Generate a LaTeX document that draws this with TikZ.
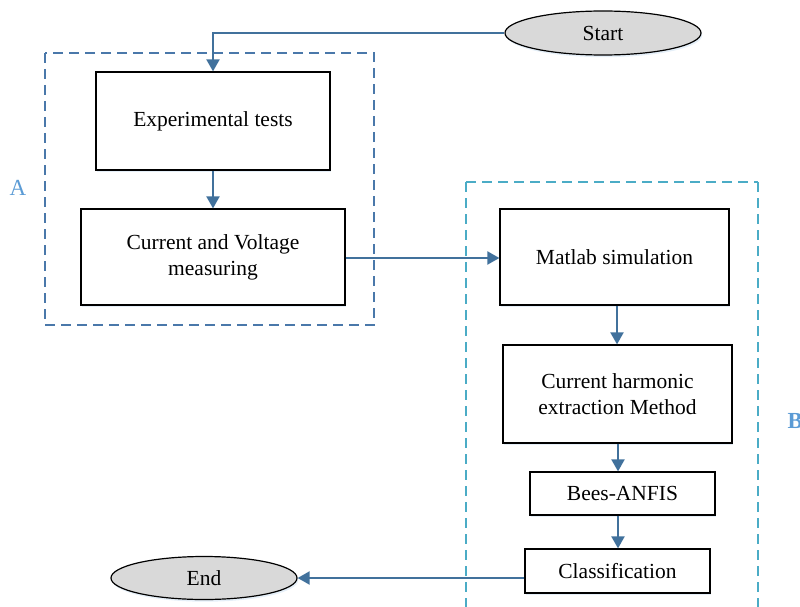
\documentclass[tikz,border=0pt]{standalone}
\usepackage{fontspec}
\setmainfont{Liberation Serif}
\usetikzlibrary{shapes.geometric,arrows.meta,shadows}
\definecolor{flow}{HTML}{41719C}
\definecolor{grpA}{HTML}{4A78AA}
\definecolor{grpB}{HTML}{4BACC6}
\definecolor{lbl}{HTML}{5B9BD5}
\definecolor{term}{HTML}{D9D9D9}
\tikzset{
  glow/.style={drop shadow={fill=lbl!45, opacity=0.35, shadow xshift=1.2pt, shadow yshift=-2.2pt}},
  procbox/.style={draw=black, line width=1.2pt, fill=white, glow, inner sep=0pt,
    align=center, font=\fontsize{21.5}{26}\selectfont},
  termnode/.style={ellipse, draw=black, line width=1.2pt, fill=term, glow, inner sep=0pt,
    font=\fontsize{21.5}{26}\selectfont},
  flowline/.style={draw=flow, line width=2pt, -{Triangle[length=12pt,width=13pt]}},
  groupA/.style={draw=grpA, line width=1.6pt, dash pattern=on 10pt off 6pt},
  groupB/.style={draw=grpB, line width=1.6pt, dash pattern=on 10pt off 6pt},
  grplabel/.style={text=lbl, font=\fontsize{23}{24}\selectfont}
}
\begin{document}
\begin{tikzpicture}[x=1pt,y=-1pt]
\useasboundingbox (0,0) rectangle (800,607);

% dashed group frames
\draw[groupA] (45,53) rectangle (374,325);
\draw[groupB] (466,182) -- (758,182) (466,182) -- (466,612) (758,182) -- (758,612);
\node[grplabel] (labA) at (18,188) {A};
\node[grplabel, font=\fontsize{23}{24}\selectfont\bfseries, anchor=west] (labB) at (784,421) {B};

% terminals
\node[termnode, minimum width=196pt, minimum height=44pt] (start) at (603,33) {Start};
\node[termnode, minimum width=186pt, minimum height=43pt] (end) at (204,578) {End};

% process steps
\node[procbox, minimum width=234pt, minimum height=98pt] (exp) at (213,121) {Experimental tests};
\node[procbox, minimum width=264pt, minimum height=96pt] (meas) at (213,257) {Current and Voltage\\measuring};
\node[procbox, minimum width=229pt, minimum height=96pt] (mat) at (614.5,257) {Matlab simulation};
\node[procbox, minimum width=229pt, minimum height=98pt] (harm) at (617.5,394) {Current harmonic\\extraction Method};
\node[procbox, minimum width=185pt, minimum height=43pt] (bees) at (622.5,493.5) {Bees-ANFIS};
\node[procbox, minimum width=185pt, minimum height=44pt] (cls) at (617.5,571) {Classification};

% connectors
\draw[flowline] (start.west) -| (exp.north);
\draw[flowline] (exp.south) -- (meas.north);
\draw[flowline] (meas.east |- 0,258) -- (mat.west |- 0,258);
\draw[flowline] (mat.south -| 617,0) -- (harm.north -| 617,0);
\draw[flowline] (harm.south -| 618,0) -- (bees.north -| 618,0);
\draw[flowline] (bees.south -| 618,0) -- (cls.north -| 618,0);
\draw[flowline] (cls.west |- 0,578) -- (end.east);
\end{tikzpicture}
\end{document}
